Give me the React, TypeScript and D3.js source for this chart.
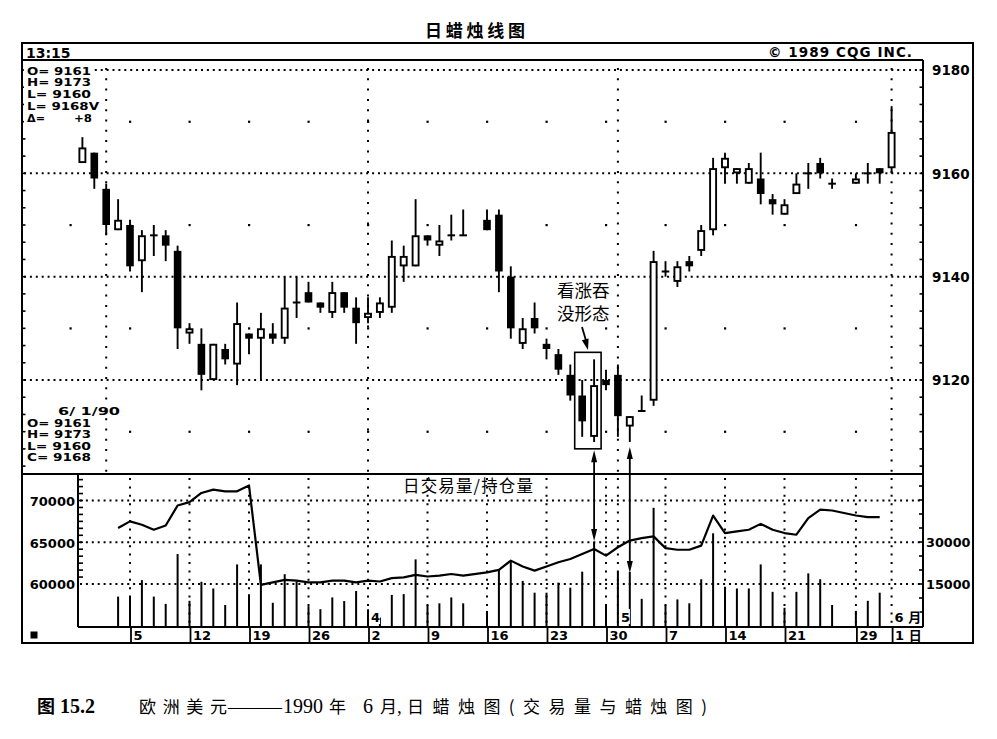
import React from "react";
import * as d3 from "d3";

// ---------------- data ----------------
const dates = [
  "2/27","2/28","3/1","3/2",
  "3/5","3/6","3/7","3/8","3/9",
  "3/12","3/13","3/14","3/15","3/16",
  "3/19","3/20","3/21","3/22","3/23",
  "3/26","3/27","3/28","3/29","3/30",
  "4/2","4/3","4/4","4/5","4/6",
  "4/9","4/10","4/11","4/12",
  "4/16","4/17","4/18","4/19","4/20",
  "4/23","4/24","4/25","4/26","4/27",
  "4/30","5/1","5/2","5/3","5/4",
  "5/7","5/8","5/9","5/10","5/11",
  "5/14","5/15","5/16","5/17","5/18",
  "5/21","5/22","5/23","5/24","5/25",
  "5/29","5/30","5/31","6/1",
];

const opens = [
  9162,9164,9157,9149,
  9150,9143,9148,9148,9145,
  9129,9127,9120,9126,9123,
  9129,9128,9129,9128,9135,
  9137,9135,9133,9137,9134,
  9132,9133,9134,9142,9142,
  9148,9146,9148,9148,
  9151,9152,9140,9127,9132,
  9127,9125,9121,9117,9109,
  9120,9121,9111,9114,9116,
  9141,9139,9143,9145,9149,
  9161,9160,9158,9159,9155,
  9152,9156,9160,9162,9158,
  9158,9160,9161,9161,
];

const highs = [
  9167,9164,9158,9155,
  9151,9149,9150,9149,9146,
  9131,9130,9127,9127,9135,
  9129,9133,9131,9140,9140,
  9139,9135,9139,9137,9136,
  9136,9136,9147,9146,9155,
  9148,9150,9152,9153,
  9153,9153,9142,9132,9135,
  9128,9126,9123,9120,9124,
  9122,9123,9113,9117,9145,
  9143,9143,9144,9150,9163,
  9164,9161,9162,9164,9156,
  9155,9160,9162,9163,9159,
  9160,9162,9161,9173,
];

const lows = [
  9162,9157,9148,9149,
  9141,9137,9144,9143,9126,
  9127,9118,9120,9123,9119,
  9125,9120,9127,9127,9132,
  9135,9133,9132,9133,9127,
  9131,9132,9133,9139,9142,
  9146,9144,9147,9148,
  9149,9137,9128,9126,9129,
  9124,9121,9116,9109,9108,
  9118,9109,9108,9114,9115,
  9140,9138,9141,9144,9148,
  9158,9158,9158,9154,9152,
  9152,9156,9157,9159,9157,
  9158,9158,9158,9160,
];

const closes = [
  9165,9159,9150,9151,
  9142,9148,9148,9146,9130,
  9130,9121,9127,9124,9131,
  9128,9130,9128,9134,9135,
  9135,9134,9137,9134,9131,
  9133,9135,9144,9144,9148,
  9147,9147,9148,9148,
  9149,9141,9130,9130,9130,
  9126,9122,9117,9112,9119,
  9119,9113,9113,9114,9143,
  9141,9142,9142,9149,9161,
  9163,9161,9161,9156,9154,
  9154,9158,9160,9160,9158,
  9159,9160,9160,9168,
];

const volumes: (number | null)[] = [
  null,null,null,10500,
  10500,16400,10500,7900,25700,
  9000,15800,13400,7500,22000,
  11300,22000,8300,18500,15800,
  7100,6000,10200,8900,12500,
  6000,3000,11100,11400,23800,
  7500,8100,10200,8100,
  5400,20000,23000,16100,11900,
  11900,15500,13700,19400,30000,
  7500,19400,19300,9700,42200,
  7500,9500,8100,16700,33100,
  14000,13400,13400,22000,12200,
  6500,12200,18800,16700,7500,
  5400,9000,11900,null,
];

const openInterest: (number | null)[] = [
  null,null,null,66700,
  67500,67100,66500,67000,69400,
  69800,70900,71300,71100,71100,
  71800,59900,60200,60500,60400,
  60200,60200,60400,60400,60200,
  60400,60300,60700,60800,61100,
  60900,61000,61200,61000,
  61400,61700,62800,62100,61600,
  62100,62600,63000,63600,64200,
  63400,64400,65200,65500,65700,
  64300,64100,64100,64600,68200,
  66100,66300,66500,67200,66500,
  66100,65900,67900,68900,68800,
  68200,68000,68000,null,
];

const tickDates = ["3/5","3/12","3/19","3/26","4/2","4/9","4/16","4/23","4/30","5/7","5/14","5/21","5/29","6/1"];
const tickLabels = ["5","12","19","26","2","9","16","23","30","7","14","21","29","1 日"];
const weekDotDates = ["2/26","3/5","3/12","3/19","3/26","4/2","4/9","4/16","4/23","4/30","5/7","5/14","5/21","5/29"];
const monthStartDates = ["3/1","4/2","5/1","6/1"];
const monthLabelDates = ["4/2","5/1","6/1"];
const monthLabels = ["4","5","6 月"];
const priceGrid = [9180, 9160, 9140, 9120];
const priceDotRows = [9170, 9150, 9130, 9110];
const oiLabels = [70000, 65000, 60000];
const volLabels = [30000, 15000];
const legendTop = ["O= 9161", "H= 9173", "L= 9160", "L= 9168V"];
const legendTopDelta = ["Δ=", "+8"];
const legendBottomDate = "6/ 1/90";
const legendBottom = ["O= 9161", "H= 9173", "L= 9160", "C= 9168"];

// ---------------- scales ----------------
const fmt = d3.timeFormat("%-m/%-d");
const slots = d3
  .timeDay.range(new Date(1990, 1, 26), new Date(1990, 5, 2))
  .filter((d) => d.getDay() !== 0 && d.getDay() !== 6)
  .map(fmt);

const x = d3.scalePoint<string>().domain(slots).range([70.5, 891.6]);
const yP = d3.scaleLinear().domain([9120, 9180]).range([380, 70]);
const yV = d3.scaleLinear().domain([0, 30000]).range([626, 542]);
const yOI = d3.scaleLinear().domain([60000, 70000]).range([584, 500.5]);

const L = 22, R = 923, OUTR = 973, TOP = 43, HEAD = 60, SEP = 474, BASE = 627, BOT = 643, VLEFT = 78;

const AX = "DejaVu Sans";
const CJK = "Noto Sans CJK SC";

const dotted = { stroke: "#000", strokeWidth: 2, strokeDasharray: "2 3.9" };
const vdotted = { stroke: "#000", strokeWidth: 2, strokeDasharray: "2 8.3" };
const vdotted2 = { stroke: "#000", strokeWidth: 2, strokeDasharray: "2 6.4" };

function arrowHead(tx: number, ty: number, fx: number, fy: number, len = 12, half = 3.2) {
  const dx = tx - fx, dy = ty - fy;
  const n = Math.hypot(dx, dy);
  const ux = dx / n, uy = dy / n;
  const bx = tx - ux * len, by = ty - uy * len;
  const px = -uy * half, py = ux * half;
  return `M${tx},${ty}L${bx + px},${by + py}L${bx - px},${by - py}Z`;
}

const LEG_FS = 9.9;

export default function App() {
  const idx = (d: string) => dates.indexOf(d);
  const oiLine = d3
    .line<number>()
    .defined((i) => openInterest[i] != null)
    .x((i) => x(dates[i])!)
    .y((i) => yOI(openInterest[i] as number));

  const priceTicks = d3.range(0, 25).map((k) => 9180 - (k * 10) / 3).filter((p) => yP(p) > HEAD + 2 && yP(p) < SEP - 2);
  const oiTicks = d3.range(0, 16).map((k) => 73333 - (k * 5000) / 6).filter((v) => yOI(v) > SEP + 2 && yOI(v) <= 585);
  const volTicks = d3.range(0, 12).map((k) => k * 5000).filter((v) => yV(v) > SEP + 4 && yV(v) < BASE - 4);

  // annotation geometry derived from the marked candles
  const a1 = idx("4/26"), a2 = idx("4/27"), a3 = idx("5/2");
  const boxL = x(dates[a1])! - 7.5, boxR = x(dates[a2])! + 7;
  const boxT = yP(highs[a2]) - 7, boxB = yP(lows[a1]) + 12;
  const arX1 = x(dates[a2])!, arX2 = x(dates[a3])!;
  const ar1Top = boxB + 1.5, ar1Bot = yV(volumes[a2] as number) - 1;
  const ar2Top = yP(lows[a3]) + 5, ar2Bot = yV(volumes[a3] as number) + 1;

  return (
    <svg width={997} height={739} style={{ position: "absolute", left: 0, top: 0, display: "block", background: "#fff" }}>
      <rect x={0} y={0} width={997} height={739} fill="#fff" />

      {/* title */}
      <text x={425} y={37} fontFamily={CJK} fontWeight="bold" fontSize={17} textLength={100} lengthAdjust="spacing">日蜡烛线图</text>

      {/* price grid */}
      {priceGrid.map((p) => (
        <line key={p} x1={L + 2} x2={R - 1} y1={yP(p)} y2={yP(p)} {...dotted} />
      ))}
      {priceDotRows.map((p) =>
        weekDotDates.map((d) => <rect key={p + d} x={x(d)! - 1} y={yP(p) - 1} width={2.2} height={2.2} fill="#000" />)
      )}
      {monthStartDates.map((d) => (
        <line key={d} x1={x(d)!} x2={x(d)!} y1={HEAD + 8} y2={SEP - 2} {...vdotted} />
      ))}

      {/* volume grid */}
      {oiLabels.map((v) => (
        <line key={v} x1={VLEFT + 2} x2={R - 1} y1={yOI(v)} y2={yOI(v)} {...dotted} />
      ))}
      {[...tickDates, "5/1"].map((d) => (
        <line key={"vg" + d} x1={x(d)!} x2={x(d)!} y1={SEP + 4} y2={BASE - 2} {...vdotted2} />
      ))}

      {/* volume bars */}
      {dates.map((d, i) =>
        volumes[i] == null ? null : (
          <line key={"v" + d} x1={x(d)!} x2={x(d)!} y1={BASE} y2={yV(volumes[i] as number)} stroke="#000" strokeWidth={2} />
        )
      )}
      {/* open interest */}
      <path d={oiLine(d3.range(dates.length)) || ""} fill="none" stroke="#000" strokeWidth={2.2} strokeLinejoin="round" />

      {/* candles */}
      {dates.map((d, i) => {
        const cx = x(d)!;
        const o = opens[i], c = closes[i];
        const yt = yP(Math.max(o, c)), yb = yP(Math.min(o, c));
        const up = c > o;
        return (
          <g key={"c" + d}>
            <line x1={cx} x2={cx} y1={yP(highs[i])} y2={yP(lows[i])} stroke="#000" strokeWidth={1.9} />
            {up ? (
              <rect x={cx - 3} y={yt + 0.9} width={6} height={Math.max(yb - yt - 1.8, 0.6)} fill="#fff" stroke="#000" strokeWidth={1.9} />
            ) : (
              <rect x={cx - 3.8} y={o === c ? yt - 1 : yt} width={7.6} height={Math.max(yb - yt, 2)} fill="#000" />
            )}
          </g>
        );
      })}

      {/* frame */}
      <rect x={L} y={TOP} width={OUTR - L} height={BOT - TOP} fill="none" stroke="#000" strokeWidth={2} />
      <line x1={L} x2={R} y1={HEAD} y2={HEAD} stroke="#000" strokeWidth={2} />
      <line x1={R} x2={R} y1={HEAD} y2={BASE} stroke="#000" strokeWidth={2} />
      <line x1={L} x2={R} y1={SEP} y2={SEP} stroke="#000" strokeWidth={2} />
      <line x1={VLEFT} x2={VLEFT} y1={SEP} y2={BASE} stroke="#000" strokeWidth={2} />
      <line x1={VLEFT} x2={R} y1={BASE} y2={BASE} stroke="#000" strokeWidth={2} />

      {/* axis ticks */}
      {priceTicks.map((p, k) => (
        <g key={"pt" + k}>
          <line x1={L} x2={L + 3.5} y1={yP(p)} y2={yP(p)} stroke="#000" strokeWidth={1.6} />
          <line x1={R - 3.5} x2={R} y1={yP(p)} y2={yP(p)} stroke="#000" strokeWidth={1.6} />
        </g>
      ))}
      {oiTicks.map((v, k) => (
        <line key={"ot" + k} x1={VLEFT} x2={VLEFT + 5} y1={yOI(v)} y2={yOI(v)} stroke="#000" strokeWidth={1.6} />
      ))}
      {volTicks.map((v) => (
        <line key={"vt" + v} x1={R - 4} x2={R} y1={yV(v)} y2={yV(v)} stroke="#000" strokeWidth={1.6} />
      ))}

      {/* header */}
      <text x={26} y={58} fontFamily={AX} fontWeight="bold" fontSize={14}>13:15</text>
      <text x={768} y={57} fontFamily={AX} fontWeight="bold" fontSize={13.5} textLength={144} lengthAdjust="spacing">© 1989 CQG INC.</text>

      {/* price labels */}
      {priceGrid.map((p) => (
        <text key={"pl" + p} x={932} y={yP(p) + 5.3} fontFamily={AX} fontWeight="bold" fontSize={13.5}>{p}</text>
      ))}
      {oiLabels.map((v) => (
        <text key={"ol" + v} x={75} y={yOI(v) + 5.3} textAnchor="end" fontFamily={AX} fontWeight="bold" fontSize={13}>{v}</text>
      ))}
      {volLabels.map((v) => (
        <text key={"vl" + v} x={926} y={yV(v) + 5} fontFamily={AX} fontWeight="bold" fontSize={12.8}>{v}</text>
      ))}

      {/* legends (compact so lines do not collide) */}
      <rect x={24} y={62} width={70} height={62} fill="#fff" />
      {legendTop.map((t, k) => (
        <text key={"lt" + k} x={27} y={74.5 + k * 11.8} fontFamily={AX} fontWeight="bold" fontSize={LEG_FS}
          textLength={k === 3 ? 72 : 64} lengthAdjust="spacingAndGlyphs">{t}</text>
      ))}
      <text x={27} y={74.5 + 4 * 11.8} fontFamily={AX} fontWeight="bold" fontSize={LEG_FS} textLength={18} lengthAdjust="spacingAndGlyphs">{legendTopDelta[0]}</text>
      <text x={74} y={74.5 + 4 * 11.8} fontFamily={AX} fontWeight="bold" fontSize={LEG_FS} textLength={18} lengthAdjust="spacingAndGlyphs">{legendTopDelta[1]}</text>

      <text x={58} y={414.5} fontFamily={AX} fontWeight="bold" fontSize={LEG_FS} textLength={62} lengthAdjust="spacingAndGlyphs">{legendBottomDate}</text>
      {legendBottom.map((t, k) => (
        <text key={"lb" + k} x={27} y={426.5 + k * 11.6} fontFamily={AX} fontWeight="bold" fontSize={LEG_FS}
          textLength={64} lengthAdjust="spacingAndGlyphs">{t}</text>
      ))}

      {/* panel label */}
      <text x={403} y={492} fontFamily={CJK} fontSize={16.5} textLength={130} lengthAdjust="spacing">日交易量/持仓量</text>

      {/* date row */}
      {tickDates.map((d, k) => (
        <g key={"td" + d}>
          <line x1={x(d)! + 1} x2={x(d)! + 1} y1={BASE} y2={BOT} stroke="#000" strokeWidth={1.8} />
          <text x={x(d)! + 3.5} y={640} fontFamily={k === tickDates.length - 1 ? `${AX}, ${CJK}` : AX} fontWeight="bold" fontSize={13}>{tickLabels[k]}</text>
        </g>
      ))}
      {monthLabelDates.map((d, k) => (
        <g key={"ml" + d}>
          <rect x={x(d)! + 2} y={609} width={k === 2 ? 26 : 10} height={15} fill="#fff" />
          <text x={x(d)! + 3} y={622} fontFamily={`${AX}, ${CJK}`} fontWeight="bold" fontSize={13}>{monthLabels[k]}</text>
        </g>
      ))}
      <rect x={30.5} y={631.5} width={7} height={7} fill="#000" />

      {/* annotation */}
      <text x={557} y={297} fontFamily={CJK} fontSize={17.5}>看涨吞</text>
      <text x={557} y={320} fontFamily={CJK} fontSize={17.5}>没形态</text>
      <line x1={582} y1={327} x2={587} y2={344} stroke="#000" strokeWidth={1.8} />
      <path d={arrowHead(588, 350, 582, 327, 11, 3.5)} fill="#000" />
      <rect x={boxL} y={boxT} width={boxR - boxL} height={boxB - boxT} fill="none" stroke="#000" strokeWidth={1.6} />

      <line x1={arX1} x2={arX1} y1={ar1Top + 6} y2={ar1Bot - 6} stroke="#000" strokeWidth={1.8} />
      <path d={arrowHead(arX1, ar1Top, arX1, ar1Bot, 12, 3)} fill="#000" />
      <path d={arrowHead(arX1, ar1Bot, arX1, ar1Top, 12, 3)} fill="#000" />
      <line x1={arX2} x2={arX2} y1={ar2Top + 6} y2={ar2Bot - 6} stroke="#000" strokeWidth={1.8} />
      <path d={arrowHead(arX2, ar2Top, arX2, ar2Bot, 12, 3)} fill="#000" />
      <path d={arrowHead(arX2, ar2Bot, arX2, ar2Top, 12, 3)} fill="#000" />

      {/* caption */}
      <text x={37} y={713} fontFamily={CJK} fontWeight="bold" fontSize={18}>图</text>
      <text x={60} y={713} fontFamily="Liberation Serif" fontWeight="bold" fontSize={20}>15.2</text>
      <text x={139} y={713} fontFamily={CJK} fontSize={17} textLength={88} lengthAdjust="spacing">欧洲美元</text>
      <text x={228} y={713} fontFamily="Liberation Serif" fontSize={19} textLength={54} lengthAdjust="spacingAndGlyphs">——</text>
      <text x={283} y={713} fontFamily="Liberation Serif" fontSize={20} textLength={40} lengthAdjust="spacingAndGlyphs">1990</text>
      <text x={329} y={713} fontFamily={CJK} fontSize={17}>年</text>
      <text x={363} y={713} fontFamily="Liberation Serif" fontSize={20}>6</text>
      <text x={380} y={713} fontFamily={CJK} fontSize={17}>月</text>
      <text x={397} y={713} fontFamily="Liberation Serif" fontSize={19}>,</text>
      <text x={407} y={713} fontFamily={CJK} fontSize={17} textLength={300} lengthAdjust="spacing">日蜡烛图(交易量与蜡烛图)</text>
    </svg>
  );
}
